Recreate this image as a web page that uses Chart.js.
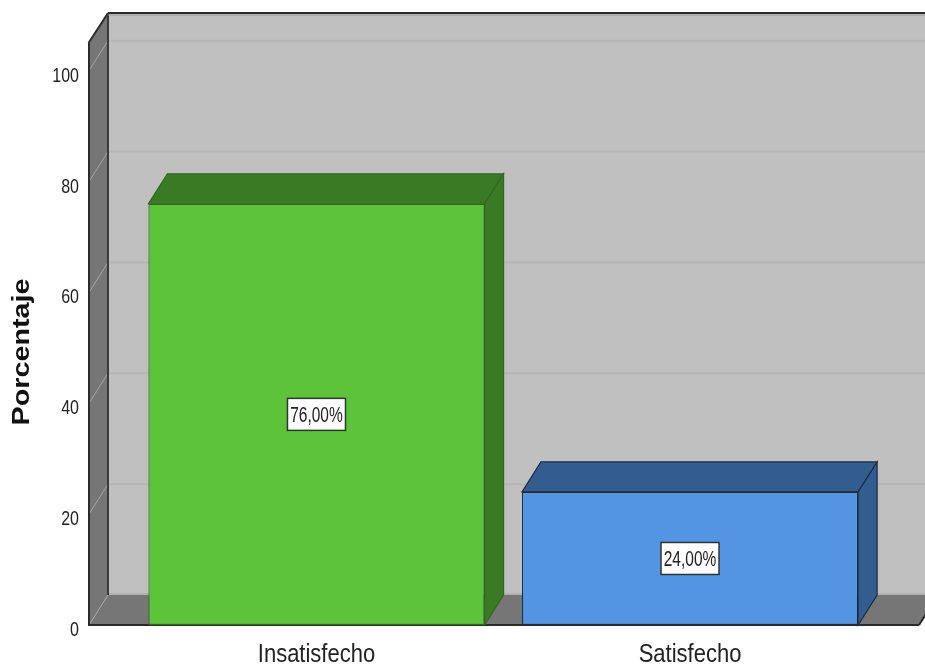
<!DOCTYPE html>
<html>
<head>
<meta charset="utf-8">
<title>Porcentaje</title>
<script src="https://cdn.jsdelivr.net/npm/chart.js"></script>
<style>
  html, body { margin: 0; padding: 0; background: #fff; }
  #wrap { width: 925px; height: 667px; }
</style>
</head>
<body>
<div id="wrap"><canvas id="myChart" width="925" height="667"></canvas></div>
<script>
var categories = ['Insatisfecho', 'Satisfecho'];
var percentages = [76, 24];
var yTicks = [0, 20, 40, 60, 80, 100];

var frontColors = ['#5cc33a', '#5394e3'];
var darkColors = ['#3b7a25', '#335d8f'];
var edgeColors = ['#33661f', '#1c2b40'];

// depth of the 3d box (walls, floor and bars)
var DX = 19;
var DY = -30;

function poly(ctx, pts, fill, stroke, lw) {
  ctx.beginPath();
  ctx.moveTo(pts[0][0], pts[0][1]);
  for (var i = 1; i < pts.length; i++) ctx.lineTo(pts[i][0], pts[i][1]);
  ctx.closePath();
  if (fill) { ctx.fillStyle = fill; ctx.fill(); }
  if (stroke) { ctx.strokeStyle = stroke; ctx.lineWidth = lw || 1; ctx.stroke(); }
}

function line(ctx, x1, y1, x2, y2, color, lw) {
  ctx.beginPath();
  ctx.moveTo(x1, y1);
  ctx.lineTo(x2, y2);
  ctx.strokeStyle = color;
  ctx.lineWidth = lw;
  ctx.stroke();
}

// text is a bit tall and narrow, so scale it vertically
function tallText(ctx, text, x, y, font, align, sy, color) {
  ctx.save();
  ctx.translate(x, y);
  ctx.scale(1, sy);
  ctx.font = font;
  ctx.textAlign = align;
  ctx.textBaseline = 'alphabetic';
  ctx.fillStyle = color;
  ctx.fillText(text, 0, 0);
  ctx.restore();
}

var boxPlugin = {
  id: 'box3d',
  beforeDatasetsDraw: function (chart) {
    var ctx = chart.ctx;
    var area = chart.chartArea;
    var ys = chart.scales.y;
    var xs = chart.scales.x;
    var L = area.left, R = area.right, T = area.top;
    var B = ys.getPixelForValue(0);
    var W = chart.width;

    ctx.save();
    // back wall
    ctx.fillStyle = '#c0c0c0';
    ctx.fillRect(L + DX, T + DY, W - L - DX + 5, B - T);
    yTicks.forEach(function (v) {
      if (v === 0) return;
      var y = ys.getPixelForValue(v) + DY;
      line(ctx, L + DX, y, W, y, '#b6b6b6', 2);
    });
    line(ctx, L + DX, B + DY - 1, W, B + DY - 1, '#b0b0b0', 2);

    // left wall
    poly(ctx, [[L, B], [L, T], [L + DX, T + DY], [L + DX, B + DY]], '#767676');
    // floor
    poly(ctx, [[L, B], [L + DX, B + DY], [R + DX, B + DY], [R, B]], '#767676');

    // gridlines on the left wall
    yTicks.forEach(function (v) {
      var y = ys.getPixelForValue(v);
      line(ctx, L, y, L + DX, y + DY, '#a6a6a6', 1);
    });

    // edges
    line(ctx, L + DX, T + DY, L + DX, B + DY, '#3a3a3a', 2);
    line(ctx, L, B, L, T, '#2b2b2b', 2);
    line(ctx, L - 0.5, T, L + DX, T + DY, '#2b2b2b', 2);
    line(ctx, L + DX, T + DY, W, T + DY, '#2b2b2b', 2);
    line(ctx, L + DX, T + DY + 2, W, T + DY + 2, '#9a9a9a', 1);
    line(ctx, L - 1, B, R, B, '#2b2b2b', 2);
    line(ctx, R, B, R + DX, B + DY, '#2b2b2b', 2);

    // y tick labels
    yTicks.forEach(function (v) {
      var y = ys.getPixelForValue(v);
      tallText(ctx, String(v), L - 10, y + 11, '16px Arial, "Liberation Sans", sans-serif', 'right', 1.22, '#222');
    });

    // axis title
    ctx.save();
    ctx.translate(29, (T + B) / 2 + 18);
    ctx.rotate(-Math.PI / 2);
    ctx.scale(1.25, 1);
    ctx.font = 'bold 23px Arial, "Liberation Sans", sans-serif';
    ctx.textAlign = 'center';
    ctx.textBaseline = 'alphabetic';
    ctx.fillStyle = '#111';
    ctx.fillText('Porcentaje', 0, 0);
    ctx.restore();

    // category labels
    categories.forEach(function (c, i) {
      var x = xs.getPixelForValue(i);
      tallText(ctx, c, x, B + 37, '22px Arial, "Liberation Sans", sans-serif', 'center', 1.21, '#222');
    });
    ctx.restore();
  },
  afterDatasetsDraw: function (chart) {
    var ctx = chart.ctx;
    var meta = chart.getDatasetMeta(0);
    ctx.save();
    meta.data.forEach(function (bar, i) {
      var p = bar.getProps(['x', 'y', 'base', 'width'], true);
      var xl = p.x - p.width / 2, xr = p.x + p.width / 2;
      var yt = p.y, yb = p.base;
      // top face
      poly(ctx, [[xl, yt], [xl + DX, yt + DY], [xr + DX, yt + DY], [xr, yt]], darkColors[i], edgeColors[i], 1.2);
      // right side
      poly(ctx, [[xr, yt], [xr + DX, yt + DY], [xr + DX, yb + DY], [xr, yb]], darkColors[i], edgeColors[i], 1.2);

      // value label
      var cx = p.x, cy = (yt + yb) / 2;
      ctx.fillStyle = '#fff';
      ctx.fillRect(cx - 29, cy - 16, 58, 32);
      ctx.strokeStyle = '#333';
      ctx.lineWidth = 1.5;
      ctx.strokeRect(cx - 29, cy - 16, 58, 32);
      var txt = percentages[i].toFixed(2).replace('.', ',') + '%';
      tallText(ctx, txt, cx, cy + 8, '15.5px Arial, "Liberation Sans", sans-serif', 'center', 1.38, '#222');
    });
    ctx.restore();
  }
};

var ctx = document.getElementById('myChart');
var myChart = new Chart(ctx, {
  type: 'bar',
  data: {
    datasets: [{
      label: 'Porcentaje',
      data: percentages.map(function (v, i) { return { x: i, y: v }; }),
      backgroundColor: frontColors,
      borderColor: edgeColors,
      borderWidth: 1.2,
      borderSkipped: false,
      barPercentage: 0.9,
      categoryPercentage: 1
    }]
  },
  options: {
    responsive: false,
    animation: false,
    layout: { padding: { left: 89, right: 6, top: 43, bottom: 42 } },
    plugins: {
      legend: { display: false },
      tooltip: { enabled: false }
    },
    scales: {
      x: {
        type: 'linear', display: false, offset: false, min: -0.609, max: 1.613,
        // one tick per category so the bars get the full slot width
        afterBuildTicks: function (axis) {
          axis.ticks = categories.map(function (c, i) { return { value: i }; });
        }
      },
      y: { display: false, min: 0, max: 105 }
    }
  },
  plugins: [boxPlugin]
});
</script>
</body>
</html>
